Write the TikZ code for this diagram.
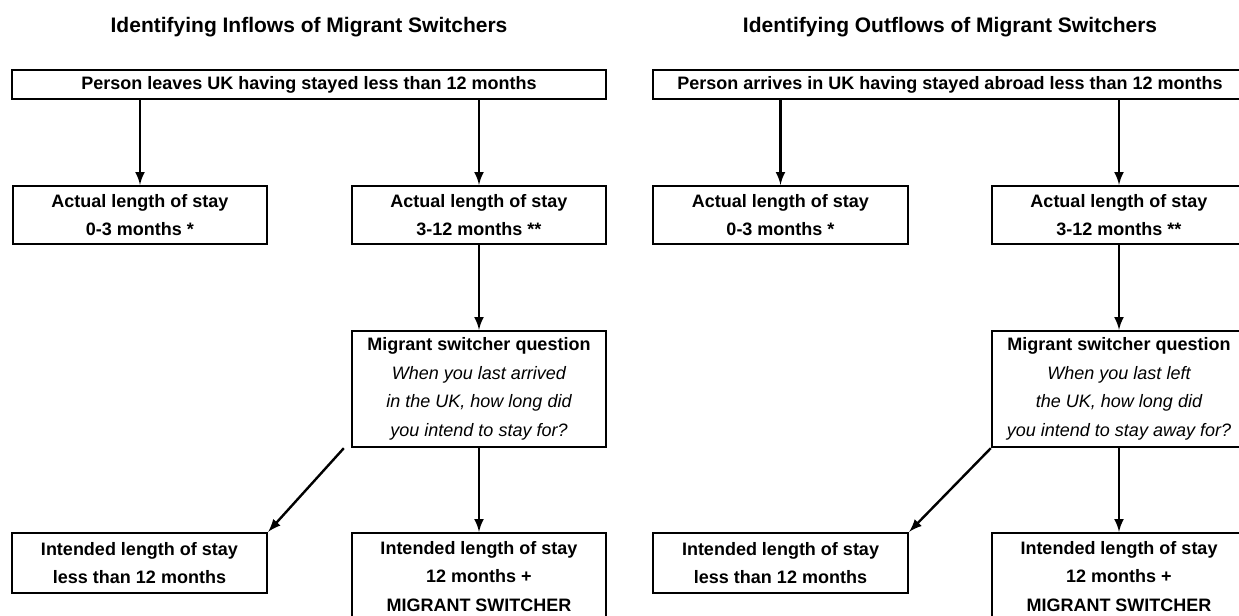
\documentclass[tikz,border=0pt]{standalone}
\usepackage{fontspec}
\setmainfont{Liberation Sans}
\begin{document}
\begin{tikzpicture}[x=0.5pt,y=-0.5pt,
    box/.style={draw,line width=1.2pt,inner sep=0pt,align=center,font=\fontsize{9}{14.3}\selectfont\bfseries},
    flow/.style={-latex,line width=1.2pt},
    heading/.style={font=\fontsize{10.5}{12}\selectfont\bfseries}]
            \useasboundingbox (0,0) rectangle (1239,616);
            \clip (0,0) rectangle (1239,616);
            % inflows
            \node[heading] (inTitle) at (309,27) {Identifying Inflows of Migrant Switchers};
            \node[box,minimum width=297pt,minimum height=14.5pt] (inTop) at (309,84.5) {Person leaves UK having stayed less than 12 months};
            \node[box,minimum width=127pt,minimum height=29pt] (inShort) at (140,215) {Actual length of stay\\0-3 months *};
            \node[box,minimum width=127pt,minimum height=29pt] (inLong) at (479,215) {Actual length of stay\\3-12 months **};
            \node[box,minimum width=127pt,minimum height=58pt] (inQ) at (479,389) {Migrant switcher question\\{\mdseries\itshape When you last arrived}\\{\mdseries\itshape in the UK, how long did}\\{\mdseries\itshape you intend to stay for?}};
            \node[box,minimum width=127.5pt,minimum height=30pt] (inLow) at (139.5,563) {Intended length of stay\\less than 12 months};
            \node[box,minimum width=127pt,minimum height=43.5pt] (inSwitch) at (479,576.5) {Intended length of stay\\12 months +\\MIGRANT SWITCHER};
            \draw[flow] (inTop.south -| inShort.north) -- (inShort.north);
            \draw[flow] (inTop.south -| inLong.north) -- (inLong.north);
            \draw[flow] (inLong.south) -- (inQ.north);
            \draw[flow] (inQ.south) -- (inSwitch.north);
            \draw[flow] ([xshift=-3.5pt]inQ.south west) -- (inLow.north east);
            % outflows
            \node[heading] (outTitle) at (950,27) {Identifying Outflows of Migrant Switchers};
            \node[box,minimum width=297pt,minimum height=14.5pt] (outTop) at (950,84.5) {Person arrives in UK having stayed abroad less than 12 months};
            \node[box,minimum width=127.5pt,minimum height=29pt] (outShort) at (780.5,215) {Actual length of stay\\0-3 months *};
            \node[box,minimum width=127pt,minimum height=29pt] (outLong) at (1119,215) {Actual length of stay\\3-12 months **};
            \node[box,minimum width=127pt,minimum height=58pt] (outQ) at (1119,389) {Migrant switcher question\\{\mdseries\itshape When you last left}\\{\mdseries\itshape the UK, how long did}\\{\mdseries\itshape you intend to stay away for?}};
            \node[box,minimum width=127.5pt,minimum height=30pt] (outLow) at (780.5,563) {Intended length of stay\\less than 12 months};
            \node[box,minimum width=127pt,minimum height=43.5pt] (outSwitch) at (1119,576.5) {Intended length of stay\\12 months +\\MIGRANT SWITCHER};
            \draw[flow] (outTop.south -| outShort.north) -- (outShort.north);
            \draw[flow] (outTop.south -| outLong.north) -- (outLong.north);
            \draw[flow] (outLong.south) -- (outQ.north);
            \draw[flow] (outQ.south) -- (outSwitch.north);
            \draw[flow] (outQ.south west) -- (outLow.north east);
        \end{tikzpicture}
\end{document}
